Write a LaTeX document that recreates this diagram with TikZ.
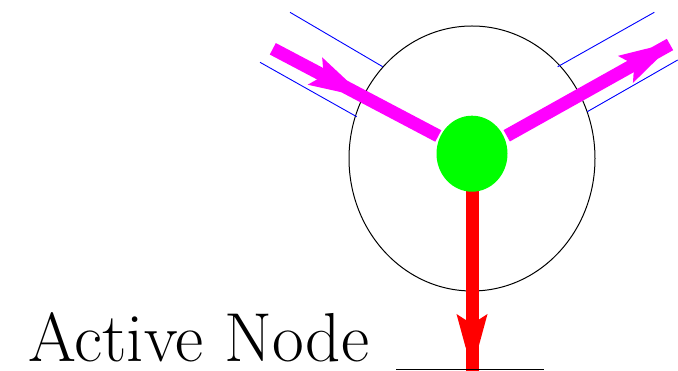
\documentclass[tikz,border=0pt]{standalone}
\usepackage{fontspec}
\usetikzlibrary{shapes.geometric}
\definecolor{mag}{RGB}{255,0,255}
\definecolor{grn}{RGB}{0,255,0}
\definecolor{rd}{RGB}{255,0,0}
\definecolor{bl}{RGB}{0,0,255}
\begin{document}
\begin{tikzpicture}[x=1pt,y=-1pt,
  thickflow/.style={line width=13pt,line cap=butt},
  guide/.style={draw=bl,line width=0.9pt},
  barb/.pic={\fill[pic actions] (0,15.5) -- (33,6.5) -- (48,0) -- (33,-6.5) -- (0,-15.5) -- (10,0) -- cycle;}
]
\useasboundingbox (0,0) rectangle (678,371);
% outer ellipse
\node[ellipse,draw=black,line width=1pt,minimum width=246pt,minimum height=265pt,inner sep=0pt] (outer) at (472,158.5) {};
% guide lines
\coordinate (bl1a) at (290,12.3);   \coordinate (bl1b) at (382.7,66.7);
\coordinate (bl2a) at (260,62.3);   \coordinate (bl2b) at (356.7,116.7);
\coordinate (br1a) at (557.7,66.7); \coordinate (br1b) at (654.3,12.3);
\coordinate (br2a) at (587.3,111.7);\coordinate (br2b) at (677.7,60);
\draw[guide] (bl1a) -- (bl1b);
\draw[guide] (bl2a) -- (bl2b);
\draw[guide] (br1a) -- (br1b);
\draw[guide] (br2a) -- (br2b);
% flows
\coordinate (inA) at (272.8,48.8);  \coordinate (inB) at (438.3,136);
\coordinate (outA) at (506.7,135.8); \coordinate (outB) at (670,44.5);
\coordinate (dnA) at (472,188);     \coordinate (dnB) at (472,372);
\draw[thickflow,draw=mag] (inA) -- (inB);
\draw[thickflow,draw=mag] (outA) -- (outB);
\draw[thickflow,draw=rd] (dnA) -- (dnB);
\pic[fill=mag,rotate=-27.8] at (314.9,71.0) {barb};
\pic[fill=mag,rotate=29.2] at (625.4,69.4) {barb};
\pic[fill=rd,rotate=-90] at (472,314) {barb};
% core
\node[ellipse,fill=grn,minimum width=71pt,minimum height=76pt,inner sep=0pt] (core) at (472,153.7) {};
% base line
\coordinate (baseL) at (396,370); \coordinate (baseR) at (544,370);
\draw[line width=1pt] (baseL) -- (baseR);
% label
\node[anchor=base west,inner sep=0pt] (label) at (28,361.5) {\resizebox{341pt}{49pt}{\rmfamily\fontsize{70pt}{72pt}\selectfont Active Node}};
\end{tikzpicture}
\end{document}
